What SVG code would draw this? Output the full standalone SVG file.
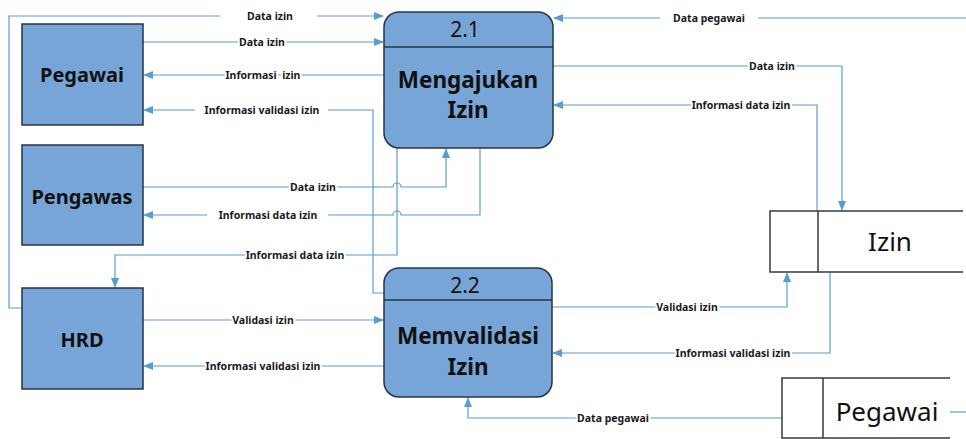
<svg xmlns="http://www.w3.org/2000/svg" width="966" height="439" viewBox="0 0 966 439">
  <style>
    .ent { fill: #78a5d8; stroke: #243447; stroke-width: 1.5; }
    .proc { fill: #78a5d8; stroke: #243447; stroke-width: 1.5; }
    .div { stroke: #243447; stroke-width: 1.5; }
    .store { fill: none; stroke: #3a3a3a; stroke-width: 1.5; }
    .flow { fill: none; stroke: #5b9bd5; stroke-width: 1.2; }
    .ename { font-family: "Noto Sans", "Liberation Sans", sans-serif; font-weight: bold; font-size: 20px; fill: #111; text-anchor: middle; }
    .pnum { font-family: "Noto Sans", "Liberation Sans", sans-serif; font-size: 21px; fill: #111; text-anchor: middle; }
    .pname { font-family: "Noto Sans", "Liberation Sans", sans-serif; font-weight: bold; font-size: 22.5px; fill: #111; text-anchor: middle; }
    .sname { font-family: "Noto Sans", "Liberation Sans", sans-serif; font-size: 26px; fill: #111; text-anchor: middle; }
    .lbl { font-family: "Noto Sans", "Liberation Sans", sans-serif; font-weight: bold; font-size: 10.5px; fill: #1a1a1a; text-anchor: middle; white-space: pre; }
    .halo { paint-order: stroke; stroke: #ffffff; stroke-width: 4px; stroke-linejoin: round; }
  </style>
  <defs>
    <marker id="arr" markerWidth="10" markerHeight="8" refX="9" refY="4" orient="auto" markerUnits="userSpaceOnUse">
      <path d="M0,0 L10,4 L0,8 Z" fill="#5b9bd5"/>
    </marker>
  </defs>

  <rect width="966" height="439" fill="#ffffff"/>

  <!-- data flows -->
  <g id="connectors">
    <path class="flow" d="M22,308 H9 V16 H220"/>
    <path class="flow" d="M317,16 H383" marker-end="url(#arr)"/>
    <path class="flow" d="M143,42 H383" marker-end="url(#arr)"/>
    <path class="flow" d="M384,75 H144" marker-end="url(#arr)"/>
    <path class="flow" d="M384,293 H373 V110 H328"/>
    <path class="flow" d="M195,110 H144" marker-end="url(#arr)"/>
    <path class="flow" d="M143,187 H393 A4,4 0 0 1 401,187 H446 V149" marker-end="url(#arr)"/>
    <path class="flow" d="M480,148 V215 H401 A4,4 0 0 0 393,215 H328"/>
    <path class="flow" d="M207,215 H144" marker-end="url(#arr)"/>
    <path class="flow" d="M397,148 V255 H115 V287" marker-end="url(#arr)"/>
    <path class="flow" d="M143,320 H383" marker-end="url(#arr)"/>
    <path class="flow" d="M384,366 H144" marker-end="url(#arr)"/>
    <path class="flow" d="M782,418 H468 V398" marker-end="url(#arr)"/>
    <path class="flow" d="M552,307 H787 V273" marker-end="url(#arr)"/>
    <path class="flow" d="M830,272 V353 H553" marker-end="url(#arr)"/>
    <path class="flow" d="M553,66 H842 V210" marker-end="url(#arr)"/>
    <path class="flow" d="M817,211 V105 H554" marker-end="url(#arr)"/>
    <path class="flow" d="M966,18 H758"/>
    <path class="flow" d="M660,18 H554" marker-end="url(#arr)"/>
    <path class="flow" d="M950,412 H966"/>

    <text class="lbl" x="270" y="20">Data izin</text>
    <text class="lbl halo" x="262" y="46">Data izin</text>
    <text class="lbl halo" x="263" y="79">Informasi  izin</text>
    <text class="lbl" x="262" y="114">Informasi validasi izin</text>
    <text class="lbl halo" x="313" y="191">Data izin</text>
    <text class="lbl" x="268" y="219">Informasi data izin</text>
    <text class="lbl halo" x="295" y="259">Informasi data izin</text>
    <text class="lbl halo" x="263" y="324">Validasi izin</text>
    <text class="lbl halo" x="263" y="370">Informasi validasi izin</text>
    <text class="lbl halo" x="613" y="422">Data pegawai</text>
    <text class="lbl halo" x="687" y="311">Validasi izin</text>
    <text class="lbl halo" x="733" y="357">Informasi validasi izin</text>
    <text class="lbl halo" x="772" y="70">Data izin</text>
    <text class="lbl halo" x="741" y="109">Informasi data izin</text>
    <text class="lbl" x="709" y="22">Data pegawai</text>
  </g>

  <!-- external entities -->
  <g id="pegawai">
    <rect class="ent" x="22" y="24" width="121" height="101"/>
    <text class="ename" x="82" y="82">Pegawai</text>
  </g>
  <g id="pengawas">
    <rect class="ent" x="22" y="145" width="121" height="100"/>
    <text class="ename" x="82" y="204">Pengawas</text>
  </g>
  <g id="hrd">
    <rect class="ent" x="22" y="288" width="121" height="101"/>
    <text class="ename" x="82" y="347">HRD</text>
  </g>

  <!-- processes -->
  <g id="proc-2-1">
    <rect class="proc" x="384" y="12" width="169" height="136" rx="15" ry="15"/>
    <line class="div" x1="384" y1="47" x2="553" y2="47"/>
    <text class="pnum" x="465" y="37">2.1</text>
    <text class="pname" x="468" y="88">Mengajukan</text>
    <text class="pname" x="468" y="118">Izin</text>
  </g>
  <g id="proc-2-2">
    <rect class="proc" x="384" y="268" width="168" height="129" rx="15" ry="15"/>
    <line class="div" x1="384" y1="300" x2="552" y2="300"/>
    <text class="pnum" x="465" y="293">2.2</text>
    <text class="pname" x="468" y="344">Memvalidasi</text>
    <text class="pname" x="468" y="375">Izin</text>
  </g>

  <!-- data stores -->
  <g id="store-izin">
    <path class="store" d="M963,211 H770 V272 H963 M818,211 V272"/>
    <text class="sname" x="890" y="251">Izin</text>
  </g>
  <g id="store-pegawai">
    <path class="store" d="M950,378 H782 V438 H950 M823,378 V438"/>
    <text class="sname" x="887" y="421">Pegawai</text>
  </g>
</svg>
